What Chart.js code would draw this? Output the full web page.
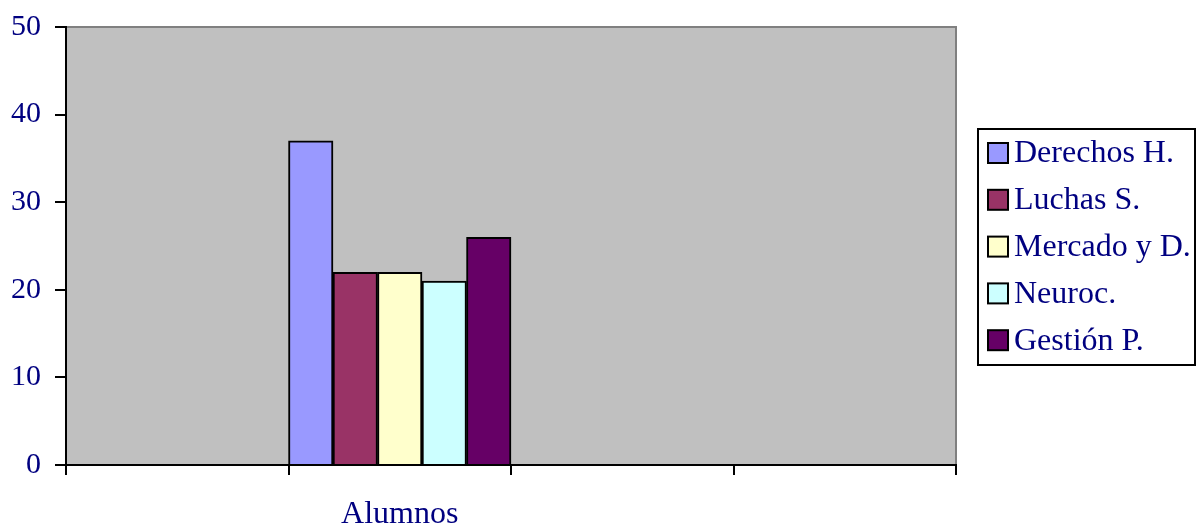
<!DOCTYPE html>
<html>
<head>
<meta charset="utf-8">
<script src="https://cdn.jsdelivr.net/npm/chart.js@4"></script>
<style>
html,body{margin:0;padding:0;background:#fff;}
#wrap{width:1197px;height:523px;position:relative;}
</style>
</head>
<body>
<div id="wrap"><canvas id="c" width="1197" height="523"></canvas></div>
<script>
const categories = ['', 'Alumnos', '', ''];
const seriesNames = ['Derechos H.', 'Luchas S.', 'Mercado y D.', 'Neuroc.', 'Gestión P.'];
const derechos = [null, 37, null, null];
const luchas = [null, 22, null, null];
const mercado = [null, 22, null, null];
const neuroc = [null, 21, null, null];
const gestion = [null, 26, null, null];
const seriesColors = ['#9999FF', '#993366', '#FFFFCC', '#CCFFFF', '#660066'];
const yTicks = [0, 10, 20, 30, 40, 50];

const FONT = '"Liberation Serif", "Times New Roman", serif';
const TEXT = '#000080';

const plotBg = {
  id: 'plotBg',
  beforeDraw(chart) {
    const {ctx, chartArea: a} = chart;
    ctx.save();
    ctx.fillStyle = '#C0C0C0';
    ctx.fillRect(a.left, a.top, a.right - a.left, a.bottom - a.top);
    ctx.strokeStyle = '#808080';
    ctx.lineWidth = 2;
    ctx.beginPath();
    ctx.moveTo(a.left, a.top);
    ctx.lineTo(a.right, a.top);
    ctx.lineTo(a.right, a.bottom);
    ctx.stroke();
    ctx.restore();
  }
};

const boxLegend = {
  id: 'boxLegend',
  afterDraw(chart) {
    const {ctx} = chart;
    const x0 = 977, y0 = 128, w = 219, h = 238;
    ctx.save();
    ctx.fillStyle = '#fff';
    ctx.fillRect(x0, y0, w, h);
    ctx.strokeStyle = '#000';
    ctx.lineWidth = 2;
    ctx.strokeRect(x0 + 1, y0 + 1, w - 2, h - 2);
    ctx.font = '32px ' + FONT;
    ctx.textBaseline = 'middle';
    ctx.textAlign = 'left';
    chart.data.datasets.forEach((ds, i) => {
      const cy = 153 + i * 46.8;
      ctx.fillStyle = ds.backgroundColor;
      ctx.fillRect(988, cy - 10, 20, 20);
      ctx.strokeStyle = '#000';
      ctx.lineWidth = 2;
      ctx.strokeRect(988, cy - 10, 20, 20);
      ctx.fillStyle = TEXT;
      ctx.fillText(ds.label, 1014, cy + 1);
    });
    ctx.restore();
  }
};

const valueSets = [derechos, luchas, mercado, neuroc, gestion];

new Chart(document.getElementById('c'), {
  type: 'bar',
  data: {
    labels: categories,
    datasets: seriesNames.map((n, i) => ({
      label: n,
      data: valueSets[i],
      backgroundColor: seriesColors[i],
      borderColor: '#000',
      borderWidth: 2,
      categoryPercentage: 1,
      barPercentage: 1
    }))
  },
  options: {
    responsive: false,
    animation: false,
    layout: {padding: {top: 27, right: 241, left: 0, bottom: 0}},
    plugins: {legend: {display: false}, tooltip: {enabled: false}},
    scales: {
      x: {
        grid: {offset: true, drawOnChartArea: false, tickLength: 10, color: '#000', lineWidth: 2},
        border: {color: '#000', width: 2},
        ticks: {color: TEXT, font: {family: FONT, size: 32}, padding: 20, maxRotation: 0},
        afterFit(s) { s.height = 58; }
      },
      y: {
        min: 0, max: 50,
        afterBuildTicks(s) { s.ticks = yTicks.map(v => ({value: v})); },
        grid: {drawOnChartArea: false, tickLength: 11, color: '#000', lineWidth: 2},
        border: {color: '#000', width: 2},
        ticks: {color: TEXT, font: {family: FONT, size: 30, lineHeight: 1}, padding: 14},
        afterFit(s) { s.width = 66; s.paddingTop = 0; s.paddingBottom = 0; }
      }
    }
  },
  plugins: [plotBg, boxLegend]
});
</script>
</body>
</html>
